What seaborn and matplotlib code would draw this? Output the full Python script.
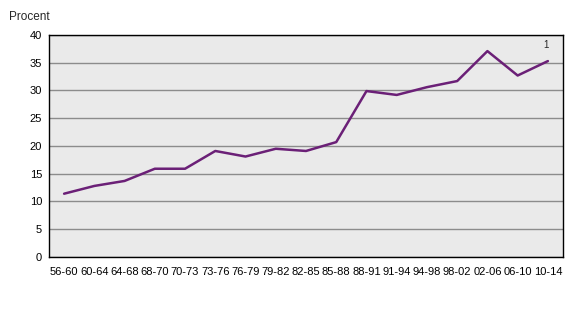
import matplotlib
matplotlib.use("Agg")
import matplotlib.pyplot as plt
import seaborn as sns
import pandas as pd

periods = ["56-60", "60-64", "64-68", "68-70", "70-73", "73-76", "76-79", "79-82",
           "82-85", "85-88", "88-91", "91-94", "94-98", "98-02", "02-06", "06-10", "10-14"]
values = [11.4, 12.8, 13.7, 15.9, 15.9, 19.1, 18.1, 19.5, 19.1, 20.7,
          29.9, 29.2, 30.6, 31.7, 37.1, 32.7, 35.3]
y_ticks = [0, 5, 10, 15, 20, 25, 30, 35, 40]
note_label = "1"

sns.set_style("white")
plt.rcParams["font.family"] = ["Liberation Sans", "DejaVu Sans"]

df = pd.DataFrame({"period": periods, "value": values})
df["pos"] = range(len(periods))

fig = plt.figure(figsize=(5.71, 3.2), dpi=100)
ax = fig.add_axes([0.0858, 0.197, 0.9002, 0.6936])
ax.set_facecolor("#EAEAEA")

sns.lineplot(data=df, x="pos", y="value", ax=ax, color="#6B2077", linewidth=1.8)

ax.set_xlim(-0.5, len(periods) - 0.5)
ax.set_ylim(0, 40)
ax.set_yticks(y_ticks)
ax.set_xticks(range(len(periods)))
ax.set_xticklabels(periods)
ax.yaxis.grid(True, color="#8C8C8C", linewidth=1)
ax.set_axisbelow(True)
ax.tick_params(axis="both", length=0, labelsize=8, colors="black")
ax.tick_params(axis="y", pad=5)
ax.tick_params(axis="x", pad=7)
for s in ax.spines.values():
    s.set_color("black")
    s.set_linewidth(1)
ax.set_xlabel("")
ax.set_ylabel("")

ax.annotate(note_label, xy=(len(periods) - 1, values[-1]), xytext=(-1, 8),
            textcoords="offset points", ha="center", va="bottom", fontsize=7)
fig.text(9 / 571, 1 - 17 / 320, "Procent", fontsize=8.5, ha="left", va="center")

fig.savefig("out.png", dpi=100)
